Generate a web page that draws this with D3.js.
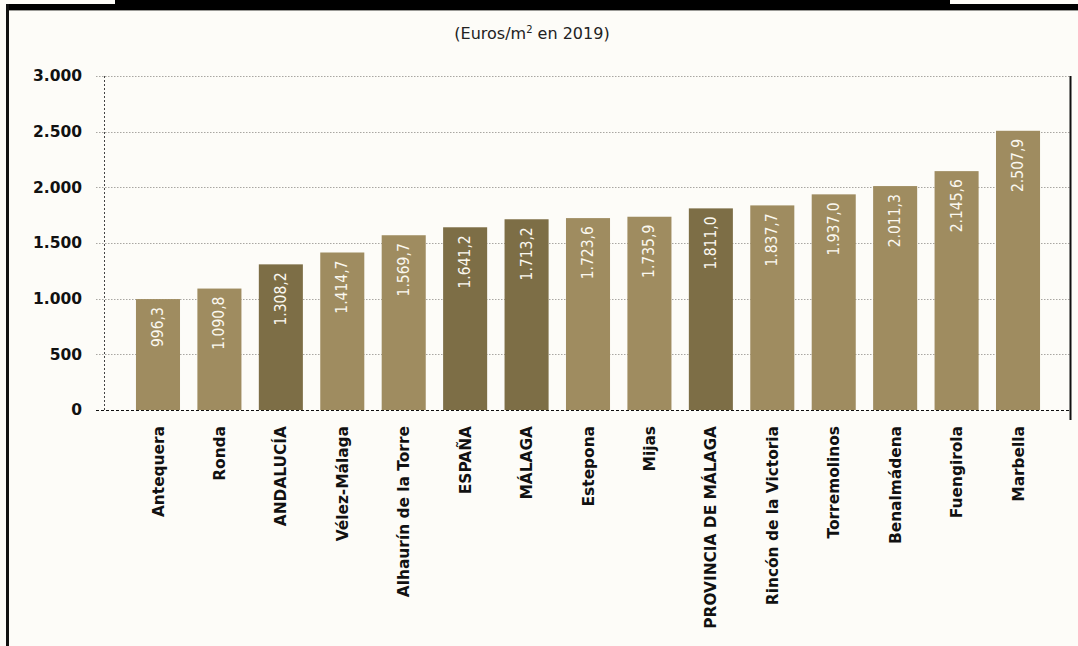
<!DOCTYPE html>
<html><head><meta charset="utf-8">
<script src="https://cdn.jsdelivr.net/npm/d3@7"></script>
<style>
html,body{margin:0;padding:0;background:#fdfcf8;}
svg{display:block;}
</style></head>
<body>
<svg id="c" width="1078" height="646"></svg>
<script>
const categories = ["Antequera","Ronda","ANDALUCÍA","Vélez-Málaga","Alhaurín de la Torre","ESPAÑA","MÁLAGA","Estepona","Mijas","PROVINCIA DE MÁLAGA","Rincón de la Victoria","Torremolinos","Benalmádena","Fuengirola","Marbella"];
const values = [996.3,1090.8,1308.2,1414.7,1569.7,1641.2,1713.2,1723.6,1735.9,1811.0,1837.7,1937.0,2011.3,2145.6,2507.9];
const highlighted = ["ANDALUCÍA","ESPAÑA","MÁLAGA","PROVINCIA DE MÁLAGA"];
const yTicks = [0,500,1000,1500,2000,2500,3000];

(function(){
const svg = d3.select("#c");
const W = 1078, H = 646;
const pTop = 76, pBottom = 410, pLeft = 104, pRight = 1070;

// frame
svg.append("rect").attr("x",0).attr("y",0).attr("width",W).attr("height",H).attr("fill","#fdfcf8");
svg.append("rect").attr("x",6).attr("y",4).attr("width",W-6).attr("height",6).attr("fill","#000");
svg.append("rect").attr("x",115).attr("y",0).attr("width",835).attr("height",10).attr("fill","#000");
svg.append("line").attr("x1",8).attr("x2",W).attr("y1",10.5).attr("y2",10.5).attr("stroke","#9a9a96").attr("stroke-width",1);
svg.append("rect").attr("x",6).attr("y",4).attr("width",3).attr("height",H).attr("fill","#111");

const fmt = d3.formatLocale({decimal:",", thousands:".", grouping:[3], currency:["","€"]});
const fTick = fmt.format(",.0f");
const fVal = fmt.format(",.1f");

const y = d3.scaleLinear().domain([0,3000]).range([pBottom, pTop]);
const x = d3.scaleBand().domain(categories).range([pLeft+1, pRight+1]).paddingInner(0.283).paddingOuter(0.504);

// subtitle
const sub = svg.append("text").attr("x",532).attr("y",39).attr("text-anchor","middle")
  .attr("font-family","'DejaVu Sans', sans-serif").attr("font-size",16).attr("fill","#222");
sub.append("tspan").text("(Euros/m");
sub.append("tspan").attr("font-size",10).attr("dy",-6).text("2");
sub.append("tspan").attr("dy",6).text(" en 2019)");

// gridlines
svg.append("g").selectAll("line").data(yTicks.filter(d=>d>0)).join("line")
  .attr("x1",96).attr("x2",pRight).attr("y1",d=>Math.round(y(d))+0.5).attr("y2",d=>Math.round(y(d))+0.5)
  .attr("stroke","#a9a7a2").attr("stroke-width",1).attr("stroke-dasharray","1.5,1.5");

const yAxis = d3.axisLeft(y).tickValues(yTicks).tickSize(0).tickFormat(fTick);
const ga = svg.append("g").attr("transform",`translate(${pLeft-22},0)`).call(yAxis);
ga.select(".domain").remove();
ga.selectAll("text").attr("font-family","'DejaVu Sans', sans-serif").attr("font-weight","bold")
  .attr("font-size",15.5).attr("fill","#111").attr("x",0);

// left dotted axis
svg.append("line").attr("x1",pLeft+0.5).attr("x2",pLeft+0.5).attr("y1",pTop).attr("y2",pBottom)
  .attr("stroke","#444").attr("stroke-width",1).attr("stroke-dasharray","2,2");

// bars
svg.append("g").selectAll("rect").data(categories).join("rect")
  .attr("x",d=>x(d)).attr("width",x.bandwidth())
  .attr("y",(d,i)=>y(values[i])).attr("height",(d,i)=>pBottom - y(values[i]))
  .attr("fill",d=>highlighted.includes(d) ? "#7d6e46" : "#9f8c60");

// value labels
svg.append("g").selectAll("text").data(categories).join("text")
  .attr("transform",(d,i)=>`translate(${x(d)+x.bandwidth()/2+5},${y(values[i])+8}) rotate(-90)`)
  .attr("text-anchor","end")
  .attr("font-family","'Liberation Sans Narrow','DejaVu Sans Condensed','Arial Narrow',sans-serif")
  .attr("font-stretch","condensed")
  .attr("font-size",15.5).attr("fill","#fbf8ef")
  .text((d,i)=>fVal(values[i]));

// baseline
svg.append("line").attr("x1",96).attr("x2",pRight).attr("y1",pBottom+0.5).attr("y2",pBottom+0.5)
  .attr("stroke","#111").attr("stroke-width",1.2).attr("stroke-dasharray","3,2");

// right line
svg.append("line").attr("x1",pRight+0.5).attr("x2",pRight+0.5).attr("y1",pTop).attr("y2",420)
  .attr("stroke","#111").attr("stroke-width",2);

// x labels
const xAxis = d3.axisBottom(x).tickSize(0);
const gx = svg.append("g").attr("transform",`translate(0,${pBottom})`).call(xAxis);
gx.select(".domain").remove();
gx.selectAll("text")
  .attr("transform","rotate(-90)").attr("text-anchor","end")
  .attr("x",-16).attr("y",0).attr("dy","0.36em")
  .attr("font-family","'DejaVu Sans', sans-serif").attr("font-weight","bold")
  .attr("font-size",15.4).attr("fill","#111");
})();
</script>
</body></html>
